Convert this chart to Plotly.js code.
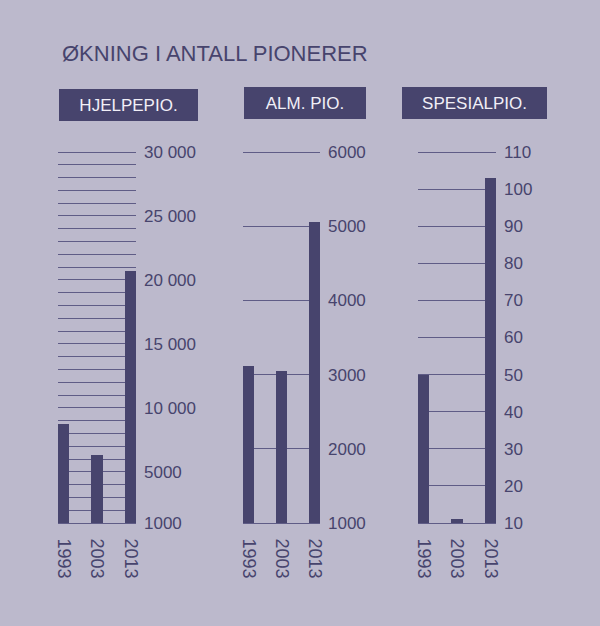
<!DOCTYPE html>
<html>
<head>
<meta charset="utf-8">
<script src="https://cdn.plot.ly/plotly-3.0.1.min.js"></script>
<style>
  html, body { margin: 0; padding: 0; background: #bcb9cc; }
  #chart { width: 600px; height: 626px; }
</style>
</head>
<body>
<div id="chart"></div>
<script>
//------------------------------------------------------------------------------
// Økning i antall pionerer: 3 small bar panels, right-hand axes
//------------------------------------------------------------------------------
var years = ['1993', '2003', '2013'];

var panelTitles = ['HJELPEPIO.', 'ALM. PIO.', 'SPESIALPIO.'];

var hjelpepio = [8700, 6300, 20700];
var almPio = [3120, 3050, 5060];
var spesialpio = [50, 11, 103];

var hjelpeTicks = [1000, 5000, 10000, 15000, 20000, 25000, 30000];
var hjelpeLabels = ['1000', '5000', '10 000', '15 000', '20 000', '25 000', '30 000'];
var almTicks = [1000, 2000, 3000, 4000, 5000, 6000];
var spesialTicks = [10, 20, 30, 40, 50, 60, 70, 80, 90, 100, 110];

var bg = '#bcb9cc';
var ink = '#47446d';
var grid = '#5f5c86';
var W = 600, H = 626;

function px(x) { return x / W; }
function py(y) { return 1 - y / H; }

// plot area runs from y=152 (top tick) to 523 (baseline); 2px of headroom
// so the top gridline is not dropped at the range edge
var topPx = 152, botPx = 523, head = 2;
var yTop = py(topPx - head), yBot = py(botPx);

function barTrace(values, n) {
  return {
    type: 'bar',
    x: years,
    y: values,
    width: 0.33,
    marker: { color: ink, line: { width: 0 } },
    xaxis: 'x' + (n === 1 ? '' : n),
    yaxis: 'y' + (n === 1 ? '' : n),
    hoverinfo: 'x+y'
  };
}

var data = [
  barTrace(hjelpepio, 1),
  barTrace(almPio, 2),
  barTrace(spesialpio, 3)
];

function xAxis(l, r, anchor) {
  return {
    domain: [px(l), px(r)],
    anchor: anchor,
    type: 'category',
    range: [-0.165, 2.165],
    showgrid: false, zeroline: false,
    showline: true, linecolor: grid, linewidth: 1,
    ticks: '', tickangle: 90,
    ticklabelstandoff: 11,
    tickfont: { size: 18, color: ink, family: 'Liberation Sans, Arial, sans-serif' },
    fixedrange: true
  };
}

function yAxis(lo, hi, tickvals, ticktext, minorStep, anchor) {
  var extra = (hi - lo) * head / (botPx - topPx);
  var ax = {
    domain: [yBot, yTop],
    anchor: anchor,
    side: 'right',
    range: [lo, hi + extra],
    tickmode: 'array',
    tickvals: tickvals,
    ticktext: ticktext,
    showgrid: true, gridcolor: grid, gridwidth: 1,
    zeroline: false, showline: false,
    ticks: '',
    ticklabelstandoff: 7,
    tickfont: { size: 17, color: ink, family: 'Liberation Sans, Arial, sans-serif' },
    fixedrange: true
  };
  if (minorStep) {
    ax.minor = { tick0: lo, dtick: minorStep, showgrid: true, gridcolor: grid, gridwidth: 1, ticks: '' };
  }
  return ax;
}

var boxes = [
  { cx: 128.8, cy: 104.5, w: 139 },
  { cx: 305.2, cy: 103.3, w: 122 },
  { cx: 474.8, cy: 103.3, w: 145 }
];

var annotations = [{
  text: 'ØKNING I ANTALL PIONERER',
  xref: 'paper', yref: 'paper',
  x: px(60), y: py(53), xanchor: 'left', yanchor: 'middle',
  showarrow: false,
  font: { size: 22, color: ink, family: 'Liberation Sans, Arial, sans-serif' }
}];

panelTitles.forEach(function (t, i) {
  annotations.push({
    text: t,
    xref: 'paper', yref: 'paper',
    x: px(boxes[i].cx), y: py(boxes[i].cy),
    xanchor: 'center', yanchor: 'middle',
    width: boxes[i].w, height: 32,
    bgcolor: ink, borderpad: 0, borderwidth: 0,
    showarrow: false,
    font: { size: 17, color: '#f1eff7', family: 'Liberation Sans, Arial, sans-serif' }
  });
});

var layout = {
  width: W,
  height: H,
  margin: { t: 0, r: 0, b: 0, l: 0 },
  paper_bgcolor: bg,
  plot_bgcolor: bg,
  showlegend: false,
  bargap: 0,
  xaxis: xAxis(58, 136, 'y'),
  xaxis2: xAxis(243, 320, 'y2'),
  xaxis3: xAxis(418, 496, 'y3'),
  yaxis: yAxis(1000, 30000, hjelpeTicks, hjelpeLabels, 1000, 'x'),
  yaxis2: yAxis(1000, 6000, almTicks, almTicks.map(String), null, 'x2'),
  yaxis3: yAxis(10, 110, spesialTicks, spesialTicks.map(String), null, 'x3'),
  annotations: annotations
};

Plotly.newPlot('chart', data, layout, { displayModeBar: false, staticPlot: true });
</script>
</body>
</html>
